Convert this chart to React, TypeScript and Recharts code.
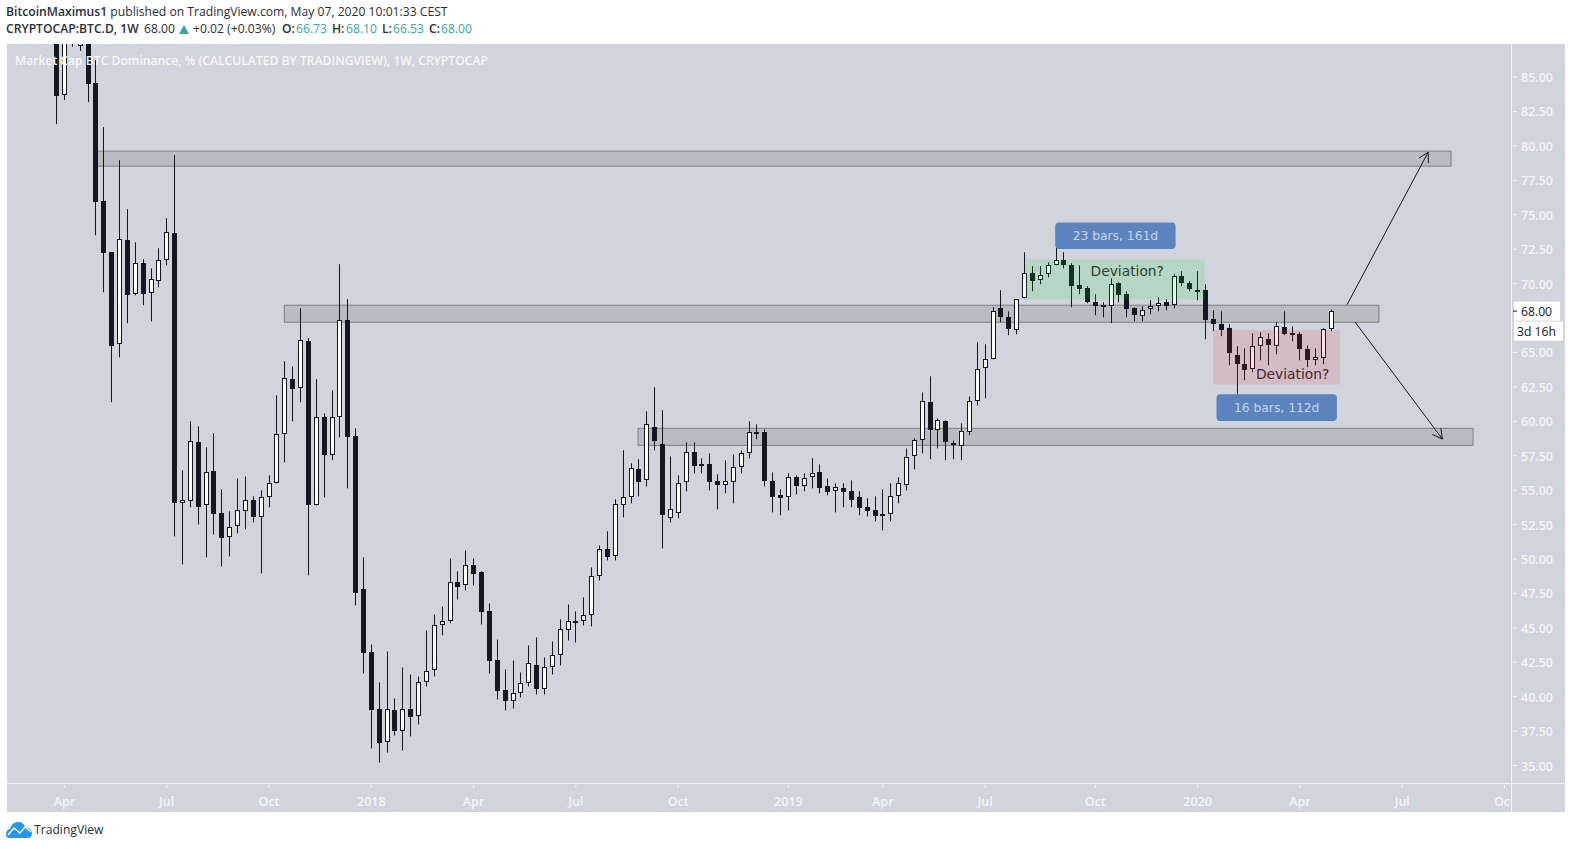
import React from "react";
import { ComposedChart, Bar, XAxis, YAxis, ReferenceArea, ReferenceLine, ReferenceDot, Label } from "recharts";

const opens = [
  90,83.69,88.5,87.27,90,84.56,75.98,72.28,65.59,73.15,
  69.23,71.48,69.30,70.17,71.70,73.66,54.04,54.18,58.47,53.89,
  56.36,53.31,51.57,52.37,53.46,54.26,53.02,54.47,55.49,59.05,
  63.05,62.39,65.81,53.89,60.29,57.53,60.29,67.34,58.91,47.79,
  43.28,39.07,36.74,39.00,37.54,39.14,38.56,41.03,41.97,45.17,
  45.53,48.30,48.08,49.53,49.02,46.19,42.63,40.45,39.72,40.30,
  40.96,42.27,40.59,42.12,42.99,44.81,45.50,45.46,45.90,48.73,
  50.69,50.19,53.89,54.47,56.51,55.71,59.56,58.32,52.95,53.31,
  55.56,57.74,56.87,56.87,55.64,55.35,55.56,56.65,57.67,59.20,
  59.20,55.64,54.62,54.47,55.93,55.27,55.93,56.29,55.27,54.91,
  55.13,54.91,54.47,53.75,53.53,53.09,53.24,54.55,55.35,57.45,
  58.61,61.38,59.34,60.00,58.40,58.18,59.20,61.45,63.85,64.50,
  68.21,67.55,66.61,68.93,70.75,70.24,70.68,71.33,71.70,71.33,
  69.88,69.66,68.64,68.43,68.35,70.02,69.23,68.21,67.63,68.14,
  68.35,68.64,68.43,70.54,70.02,69.52,69.52,67.41,67.05,66.75,
  64.79,64.14,63.78,65.45,65.95,65.45,66.83,66.39,66.32,65.23,
  64.43,64.58,66.73,
];
const highs = [
  91,92,91,90,91,86.23,81.36,72.3,78.96,75.40,
  73.00,71.77,71.11,72.57,74.75,79.33,56.44,60.00,59.63,58.11,
  59.13,55.06,53.46,55.85,56.00,54.55,54.98,56.07,61.88,64.36,
  63.99,68.21,66.03,63.05,60.58,62.25,71.41,68.86,59.49,50.12,
  43.79,41.03,43.28,39.87,42.12,41.61,41.47,44.81,45.97,46.55,
  50.04,49.10,50.62,50.04,49.10,46.77,44.15,41.97,42.63,41.76,
  43.72,44.30,42.85,44.01,45.61,46.70,46.19,47.21,49.39,50.98,
  52.00,54.33,57.89,56.95,57.24,60.72,62.47,60.80,57.45,56.07,
  58.47,58.47,57.31,57.67,56.15,57.17,57.60,57.89,60.00,59.78,
  59.42,56.29,55.06,56.22,56.07,56.22,57.31,56.87,55.85,55.49,
  55.49,55.71,54.91,54.40,54.55,55.06,55.49,55.93,58.03,58.76,
  62.10,63.27,60.21,60.07,58.61,59.85,61.81,65.74,65.59,68.28,
  69.52,67.99,68.86,72.28,71.26,71.26,71.55,72.64,72.28,71.48,
  71.33,69.81,69.23,68.64,70.39,70.10,69.44,68.28,68.35,68.79,
  69.01,68.86,70.68,70.90,70.17,70.90,69.95,68.06,67.99,67.05,
  65.45,65.30,66.39,66.46,66.39,67.19,67.99,66.90,66.46,65.52,
  65.30,66.75,68.10,
];
const lows = [
  81.58,83.33,87.2,86.9,83.18,73.51,69.37,61.38,64.65,67.12,
  69.15,68.43,67.26,69.73,71.33,51.64,49.61,53.75,52.51,50.12,
  51.78,49.46,50.19,51.86,52.15,52.66,48.95,53.75,55.49,57.02,
  60.00,61.38,48.81,53.89,54.47,57.17,58.83,55.13,46.63,41.68,
  36.24,35.22,35.94,37.18,36.09,37.11,37.98,40.74,41.47,44.45,
  45.32,47.06,47.72,48.08,45.24,41.68,39.80,39.00,39.14,39.94,
  40.74,40.16,40.16,41.61,42.27,44.08,43.94,45.17,45.10,48.44,
  49.90,49.90,53.02,54.04,54.55,55.27,57.89,50.77,52.66,52.95,
  54.91,56.22,56.22,54.98,53.60,54.77,54.04,56.22,57.31,58.69,
  55.27,53.38,53.17,53.53,54.69,54.91,55.13,54.77,54.62,53.38,
  53.75,53.75,53.17,53.09,52.73,52.08,52.73,54.04,54.98,56.51,
  57.67,57.24,58.03,57.17,57.24,57.17,58.98,61.16,61.67,64.50,
  67.19,66.25,66.32,68.93,69.44,69.95,70.46,71.33,71.11,68.28,
  69.23,68.57,67.70,67.55,67.12,68.64,67.55,67.26,67.26,67.77,
  67.99,68.06,68.21,69.81,69.44,68.79,65.95,66.54,66.18,64.07,
  61.96,62.98,63.56,64.43,64.07,64.87,66.25,65.81,64.43,63.92,
  64.07,64.14,66.53,
];
const closes = [
  83.61,91,90,89,84.49,75.91,72.21,65.45,73.22,69.15,
  71.48,69.23,70.32,71.70,73.73,54.04,54.26,58.54,53.75,56.29,
  53.24,51.49,52.29,53.53,54.26,53.02,54.47,55.49,59.05,63.12,
  62.32,65.88,53.89,60.29,57.53,60.29,67.34,58.83,47.50,43.14,
  39.00,36.67,39.07,37.54,39.14,38.49,41.03,41.90,45.24,45.53,
  48.30,48.00,49.53,48.88,46.12,42.56,40.38,39.72,40.30,40.96,
  42.48,40.59,42.12,42.99,44.88,45.46,45.53,45.90,48.73,50.69,
  50.12,53.96,54.47,56.58,55.56,59.78,58.54,53.17,53.60,55.49,
  57.74,56.73,56.73,55.56,55.35,55.64,56.65,57.67,59.20,59.05,
  55.64,54.47,54.40,55.93,55.27,55.85,56.22,55.13,54.84,55.20,
  54.84,54.26,53.67,53.46,53.09,53.24,54.55,55.49,57.38,58.61,
  61.45,59.34,60.07,58.47,58.32,59.27,61.45,63.78,64.50,67.99,
  67.55,66.68,68.86,70.75,70.17,70.61,71.33,71.70,71.33,69.81,
  69.59,68.64,68.35,68.28,69.95,69.15,68.14,67.70,68.06,68.35,
  68.57,68.35,70.54,70.02,69.59,69.44,67.34,67.05,66.61,64.94,
  64.14,63.70,65.45,66.10,65.52,66.90,66.32,66.37,65.23,64.43,
  64.65,66.68,68.00,
];

const weekTicks = [1, 14, 27, 40, 53, 66, 79, 93, 105, 118, 132, 145, 158, 171, 184];
const weekLabels = ["Apr", "Jul", "Oct", "2018", "Apr", "Jul", "Oct", "2019", "Apr", "Jul", "Oct", "2020", "Apr", "Jul", "Oct"];
const priceTicks = [35, 37.5, 40, 42.5, 45, 47.5, 50, 52.5, 55, 57.5, 60, 62.5, 65, 68, 70, 72.5, 75, 77.5, 80, 82.5, 85];
const lastPrice = 68;
const countdownText = "3d 16h";

const zones = [
  { i1: 4.98, i2: 177.2, top: 79.62, bottom: 78.53 },
  { i1: 28.95, i2: 168.04, top: 68.43, bottom: 67.19 },
  { i1: 73.9, i2: 180, top: 59.49, bottom: 58.25 },
];
const data = opens.map((open, i) => ({ i, open, high: highs[i], low: lows[i], close: closes[i] }));

const INK = "#131722";
const PANEL = "#d1d4dc";
const AXIS_TEXT = "#f3f4f7";
const TEAL = "#37a99b";
const FONT = "'Open Sans', sans-serif";
const NOTE_FONT = "'DejaVu Sans', sans-serif";

function Candle(props: any) {
  const { x, y, width, height, payload } = props;
  if (!payload) return null;
  const top = Math.min(y, y + height);
  const h = Math.abs(height);
  const k = h / Math.max(payload.high - payload.low, 0.0001);
  const c = Math.floor(x + width / 2);
  const yO = top + (payload.high - payload.open) * k;
  const yC = top + (payload.high - payload.close) * k;
  const bt = Math.round(Math.min(yO, yC));
  const bb = Math.max(Math.round(Math.max(yO, yC)), bt + 2);
  const up = payload.close >= payload.open;
  return (
    <g>
      <rect x={c} y={top} width={1} height={h} fill={INK} />
      {up ? (
        <rect x={c - 1.5} y={bt + 0.5} width={4} height={bb - bt - 1} fill="#ffffff" stroke={INK} strokeWidth={1} />
      ) : (
        <rect x={c - 2} y={bt} width={5} height={bb - bt} fill={INK} />
      )}
    </g>
  );
}

function PriceTick(props: any) {
  const { x, y, payload } = props;
  if (payload.value === lastPrice) {
    return (
      <g>
        <rect x={x + 1} y={y - 9.5} width={46} height={19} fill="#ffffff" />
        <rect x={x + 1} y={y + 10.5} width={49} height={19} fill="#ffffff" />
        <line x1={x} x2={x + 4} y1={y} y2={y} stroke={INK} />
        <text x={x + 8} y={y + 4.5} fontFamily={FONT} fontSize={12.2} fill={INK}>{lastPrice.toFixed(2)}</text>
        <text x={x + 4} y={y + 24.5} fontFamily={FONT} fontSize={12.2} fill={INK}>{countdownText}</text>
      </g>
    );
  }
  return (
    <g>
      <line x1={x} x2={x + 4} y1={y} y2={y} stroke={AXIS_TEXT} />
      <text x={x + 8} y={y + 5} fontFamily={FONT} fontSize={12.5} fontWeight={600} fill={AXIS_TEXT}>{payload.value.toFixed(2)}</text>
    </g>
  );
}

function WeekTick(props: any) {
  const { x, y, payload } = props;
  const label = weekLabels[weekTicks.indexOf(payload.value)];
  return (
    <g>
      <line x1={x} x2={x} y1={y} y2={y + 3} stroke={AXIS_TEXT} />
      <text x={x} y={y + 20.5} textAnchor="middle" fontFamily={FONT} fontSize={12.5} fontWeight={600} fill={AXIS_TEXT}>{label}</text>
    </g>
  );
}

function Arrow(props: any) {
  const { x1, y1, x2, y2 } = props;
  const a = Math.atan2(y2 - y1, x2 - x1);
  const L = 11;
  const s = 0.5;
  return (
    <g fill="none" stroke={INK} strokeWidth={1}>
      <line x1={x1} y1={y1} x2={x2} y2={y2} />
      <line x1={x2} y1={y2} x2={x2 - L * Math.cos(a - s)} y2={y2 - L * Math.sin(a - s)} />
      <line x1={x2} y1={y2} x2={x2 - L * Math.cos(a + s)} y2={y2 - L * Math.sin(a + s)} />
    </g>
  );
}

const abs = (left: number, top: number, extra: any = {}) => ({ position: "absolute", left, top, lineHeight: "16px", whiteSpace: "nowrap", ...extra }) as React.CSSProperties;

export default function App() {
  return (
    <div style={{ position: "absolute", left: 0, top: 0, width: 1572, height: 849, overflow: "hidden", background: "#fff", fontFamily: FONT, fontSize: 12.15, color: "#2a2e39" }}>
      <div style={{ position: "absolute", left: 7, top: 44, width: 1558, height: 768, background: PANEL }} />
      <div style={{ position: "absolute", left: 0, top: 0 }}>
        <ComposedChart width={1572} height={849} data={data} margin={{ top: 44, left: 7, right: 7, bottom: 37 }}>
          <XAxis dataKey="i" type="number" domain={[-6.29, 184.82]} allowDataOverflow ticks={weekTicks} interval={0} height={29} axisLine={false} tickLine={false} tickSize={0} tick={<WeekTick />} />
          <YAxis orientation="right" type="number" domain={[33.73, 87.4]} allowDataOverflow ticks={priceTicks} interval={0} width={54} axisLine={false} tickLine={false} tickSize={0} tick={<PriceTick />} />
          {zones.map((z, n) => (
            <ReferenceArea key={n} x1={z.i1} x2={z.i2} y1={z.bottom} y2={z.top} fill="#808386" fillOpacity={0.3} stroke="#7c7f84" strokeWidth={1} strokeOpacity={1} />
          ))}
          <Bar dataKey={(d: any) => [d.low, d.high]} barSize={6} shape={<Candle />} isAnimationActive={false} />
          <ReferenceArea x1={123.06} x2={145.9} y1={68.86} y2={71.77} fill="#00e61e" fillOpacity={0.13} stroke="none" zIndex={600} isFront />
          <ReferenceArea x1={147} x2={163.1} y1={62.68} y2={66.61} fill="#e61e32" fillOpacity={0.13} stroke="none" zIndex={600} isFront />
          <ReferenceArea x1={126.9} x2={142.2} y1={72.51} y2={74.44} fill="#5b84bf" fillOpacity={1} stroke="none" radius={4} zIndex={600} isFront>
            <Label value="23 bars, 161d" position="center" fill="#c8d5ea" fontSize={12.3} fontFamily={NOTE_FONT} />
          </ReferenceArea>
          <ReferenceArea x1={147.4} x2={162.7} y1={60.02} y2={61.96} fill="#5b84bf" fillOpacity={1} stroke="none" radius={4} zIndex={600} isFront>
            <Label value="16 bars, 112d" position="center" fill="#c8d5ea" fontSize={12.3} fontFamily={NOTE_FONT} />
          </ReferenceArea>
          <ReferenceDot x={136.06} y={70.9} r={0} stroke="none" zIndex={700} isFront>
            <Label value="Deviation?" position="center" fill="#26432f" fontSize={13.8} fontFamily={NOTE_FONT} />
          </ReferenceDot>
          <ReferenceDot x={157.07} y={63.46} r={0} stroke="none" zIndex={700} isFront>
            <Label value="Deviation?" position="center" fill="#43262d" fontSize={13.8} fontFamily={NOTE_FONT} />
          </ReferenceDot>
          <ReferenceLine segment={[{ x: 164, y: 68.48 }, { x: 174.3, y: 79.55 }]} shape={<Arrow />} zIndex={700} isFront />
          <ReferenceLine segment={[{ x: 165, y: 67.21 }, { x: 176.1, y: 58.71 }]} shape={<Arrow />} zIndex={700} isFront />
        </ComposedChart>
      </div>
      <div style={{ position: "absolute", left: 1512, top: 784, width: 53, height: 28, background: PANEL }} />
      <div style={{ position: "absolute", left: 7, top: 783, width: 1558, height: 1, background: AXIS_TEXT }} />
      <div style={{ position: "absolute", left: 1511, top: 44, width: 1, height: 768, background: AXIS_TEXT }} />
      <div style={{ position: "absolute", left: 0, top: 0, width: 1572, height: 44, background: "#fff" }} />

      <div style={abs(6, 4)}><b style={{ fontWeight: 600 }}>BitcoinMaximus1</b> published on TradingView.com, May 07, 2020 10:01:33 CEST</div>
      <div style={abs(6, 21, { fontWeight: 600 })}>CRYPTOCAP:BTC.D, 1W</div>
      <div style={abs(144, 21)}>68.00</div>
      <div style={{ position: "absolute", left: 179, top: 25, width: 0, height: 0, borderLeft: "5px solid transparent", borderRight: "5px solid transparent", borderBottom: "9px solid " + TEAL }} />
      <div style={abs(193, 21)}>+0.02 (+0.03%)</div>
      <div style={abs(282, 21, { fontWeight: 600 })}>O:</div>
      <div style={abs(296, 21, { color: TEAL })}>66.73</div>
      <div style={abs(332, 21, { fontWeight: 600 })}>H:</div>
      <div style={abs(346, 21, { color: TEAL })}>68.10</div>
      <div style={abs(382, 21, { fontWeight: 600 })}>L:</div>
      <div style={abs(393, 21, { color: TEAL })}>66.53</div>
      <div style={abs(429, 21, { fontWeight: 600 })}>C:</div>
      <div style={abs(441, 21, { color: TEAL })}>68.00</div>

      <div style={abs(15, 53, { color: "#f6f7f9", fontSize: 12.15, fontWeight: 600 })}>Market Cap BTC Dominance, % (CALCULATED BY TRADINGVIEW), 1W, CRYPTOCAP</div>

      <svg style={{ position: "absolute", left: 5, top: 820 }} width={28} height={19} viewBox="0 0 28 19">
        <path d="M1 14 C1 11 3 9.5 5 9 C6 5 9 2 13 2 C17 2 19 4 20.5 7 C24 7.5 27 10 27 13.5 C27 16.5 25 18 23 18 L4 18 C2 18 1 16 1 14 Z" fill="#2196f3" />
        <path d="M3 15 L9 8 L15 13 L20 7 L26 12" fill="none" stroke="#fff" strokeWidth={1.4} />
      </svg>
      <div style={abs(34, 822, { color: "#2a2e39" })}>TradingView</div>
    </div>
  );
}
